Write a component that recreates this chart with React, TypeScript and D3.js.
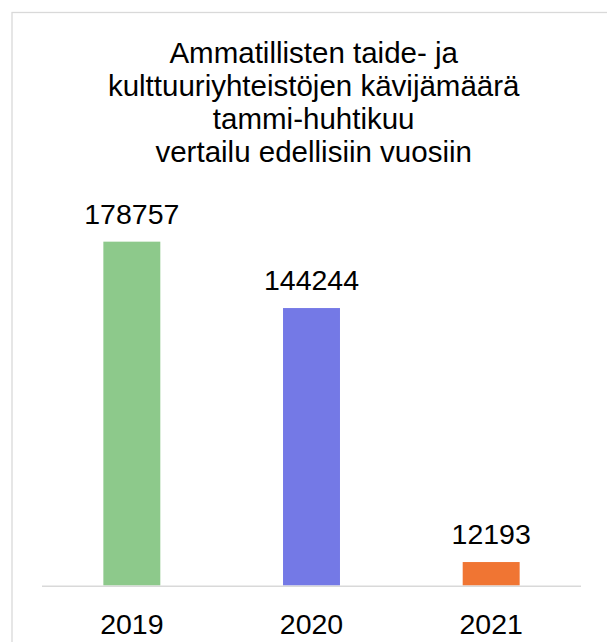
import React from "react";
import * as d3 from "d3";

const categories: string[] = ["2019", "2020", "2021"];
const values: number[] = [178757, 144244, 12193];
const colors: string[] = ["#8DC98B", "#7479E6", "#F07533"];
const titleLines: string[] = [
  "Ammatillisten taide- ja",
  "kulttuuriyhteistöjen kävijämäärä",
  "tammi-huhtikuu",
  "vertailu edellisiin vuosiin",
];

export default function App() {
  const W = 607;
  const H = 642;
  const x = d3
    .scaleBand<string>()
    .domain(categories)
    .range([42, 581])
    .paddingInner(0.683)
    .paddingOuter(0.3415);
  const y = d3.scaleLinear().domain([0, 200000]).range([585.5, 200.8]);
  const font = "'Liberation Sans', Arial, sans-serif";
  const titleBaselines = [62.5, 96, 129, 162];

  return (
    <svg
      width={W}
      height={H}
      style={{ position: "absolute", left: 0, top: 0, background: "#fff" }}
    >
      <rect x={0} y={0} width={W} height={H} fill="#fff" />
      <rect
        x={12}
        y={12.5}
        width={640}
        height={680}
        fill="none"
        stroke="#d9d9d9"
        strokeWidth={1.3}
      />
      {titleLines.map((t, i) => (
        <text
          key={i}
          x={313.7}
          y={titleBaselines[i]}
          textAnchor="middle"
          fontFamily={font}
          fontSize={29.5}
          fill="#000"
        >
          {t}
        </text>
      ))}
      {categories.map((c, i) => (
        <rect
          key={c}
          x={x(c)}
          y={y(values[i])}
          width={x.bandwidth()}
          height={y(0) - y(values[i])}
          fill={colors[i]}
        />
      ))}
      <line
        x1={42}
        x2={581}
        y1={586.2}
        y2={586.2}
        stroke="#d9d9d9"
        strokeWidth={1.6}
      />
      {categories.map((c, i) => (
        <text
          key={"v" + c}
          x={(x(c) as number) + x.bandwidth() / 2}
          y={y(values[i]) - 18}
          textAnchor="middle"
          fontFamily={font}
          fontSize={28.5}
          fill="#000"
        >
          {values[i]}
        </text>
      ))}
      {categories.map((c) => (
        <text
          key={"l" + c}
          x={(x(c) as number) + x.bandwidth() / 2}
          y={633.7}
          textAnchor="middle"
          fontFamily={font}
          fontSize={28.5}
          fill="#000"
        >
          {c}
        </text>
      ))}
    </svg>
  );
}
